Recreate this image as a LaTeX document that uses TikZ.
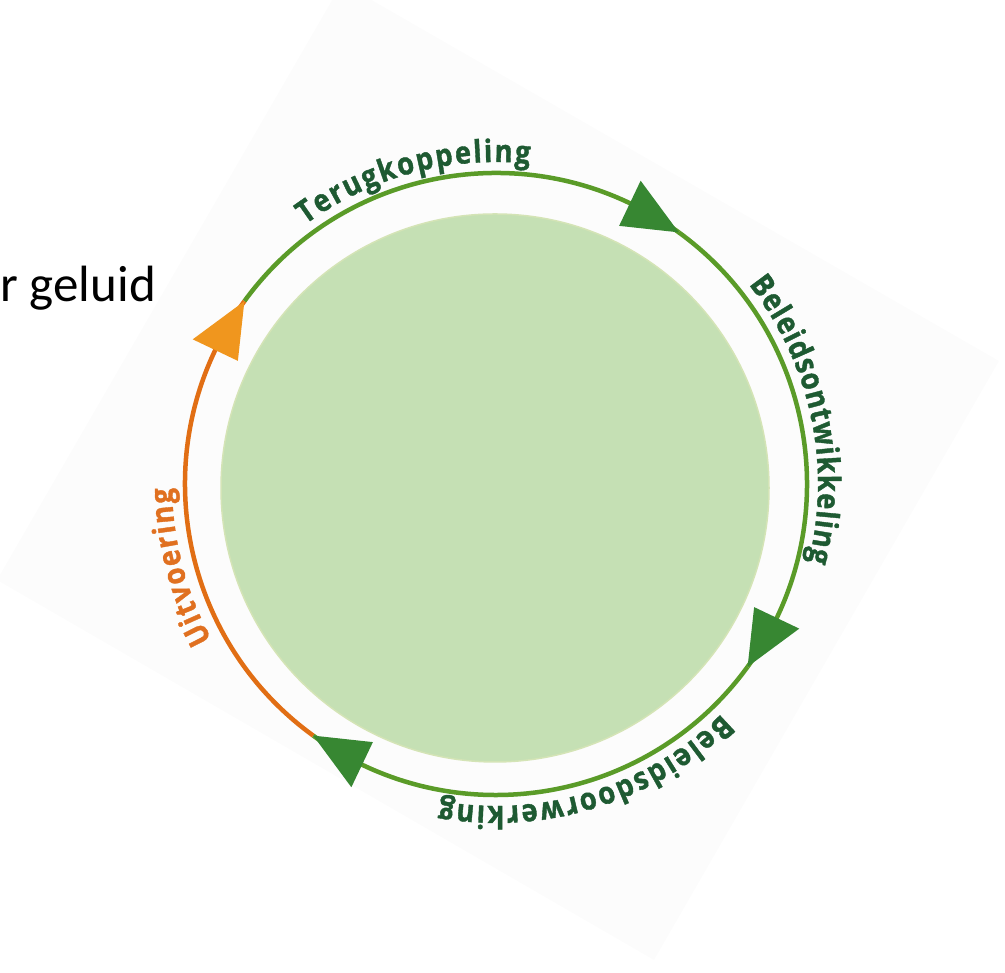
\documentclass[tikz,border=0pt]{standalone}
\usepackage{fontspec}
\newfontfamily\ringfont[FakeStretch=0.88,FakeBold=1.2]{Open Sans}
\newfontfamily\bodyfont{Carlito}
\newcommand\ringtxtfont{\fontsize{31}{31}\selectfont\ringfont\bfseries}
\usetikzlibrary{decorations.text}
\definecolor{bgpanel}{HTML}{FCFCFC}
\definecolor{disk}{HTML}{C5E0B4}
\definecolor{diskedge}{HTML}{D4E4B6}
\definecolor{ringgreen}{HTML}{5A9B28}
\definecolor{headgreen}{HTML}{378732}
\definecolor{ringorange}{HTML}{E16E14}
\definecolor{headorange}{HTML}{F0961E}
\definecolor{txtgreen}{HTML}{1E5A32}
\definecolor{txtorange}{HTML}{E07020}
\begin{document}
\begin{tikzpicture}[x=1pt,y=1pt,
  ringline/.style={line width=4.5pt}]
\useasboundingbox (0,0) rectangle (1005,973);
\begin{scope}
\clip (0,0) rectangle (1005,973);
\fill[bgpanel] (342,990) -- (999,612) -- (654,13) -- (-3,393) -- cycle;
\end{scope}
\node[font=\bodyfont\fontsize{51}{51}\selectfont, anchor=base east, inner sep=0pt] (geluid) at (156,671) {r geluid};
\fill[disk, draw=diskedge, line width=1.5pt] (495,485) circle[radius=274];
\begin{scope}[shift={(496,489)}]
\coordinate (t1) at (54:311);
\coordinate (t2) at (-36:311);
\coordinate (t3) at (-126:311);
\coordinate (t4) at (144:311);
\draw[ringline, ringgreen] (t4) arc[start angle=144, end angle=54, radius=311];
\draw[ringline, ringgreen] (t1) arc[start angle=54, end angle=-36, radius=311];
\draw[ringline, ringgreen] (t2) arc[start angle=-36, end angle=-126, radius=311];
\draw[ringline, ringorange] (t3) arc[start angle=-126, end angle=-216, radius=311];
\fill[headgreen] (t1) -- (64.5:336) -- (64.5:286) -- cycle;
\fill[headgreen] (t2) -- (-25.5:336) -- (-25.5:286) -- cycle;
\fill[headgreen] (t3) -- (-115.5:336) -- (-115.5:286) -- cycle;
\fill[headorange] (t4) -- (154.5:336) -- (154.5:286) -- cycle;
\path[decorate, decoration={text along path, text align=fit to path, text color=txtgreen,
     text={|\ringtxtfont|Terugkoppeling}}]
  (126.3:322) arc[start angle=126.3, end angle=84, radius=322];
\path[decorate, decoration={text along path, text align=fit to path, text color=txtgreen,
     text={|\ringtxtfont|Beleidsontwikkeling}}]
  (38.3:322) arc[start angle=38.3, end angle=-14, radius=322];
\path[decorate, decoration={text along path, text align=fit to path, text color=txtgreen,
     text={|\ringtxtfont|Beleidsdoorwerking}}]
  (-45.5:322) arc[start angle=-45.5, end angle=-100, radius=322];
\path[decorate, decoration={text along path, text align=fit to path, text color=txtorange,
     text={|\ringtxtfont|Uitvoering}}]
  (208.7:324) arc[start angle=208.7, end angle=180.7, radius=324];
\end{scope}
\end{tikzpicture}
\end{document}
